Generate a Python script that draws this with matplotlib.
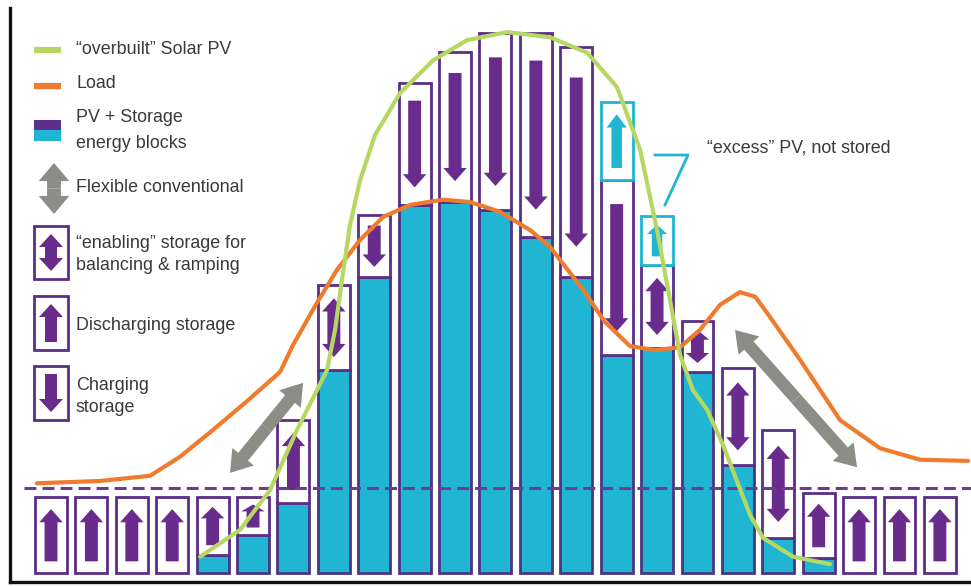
import numpy as np
import matplotlib.pyplot as plt
from matplotlib.patches import Polygon, Rectangle, FancyArrowPatch

plt.rcParams['font.family'] = ['Liberation Sans', 'DejaVu Sans']

# ---- data (hour-by-hour energy blocks, arbitrary units) ----
hours = np.arange(23)
base = 1.5
pv_served = [0, 0, 0, 0, 4.7, 8.2, 13.8, 36.9, 53.1, 65.7, 66.2, 64.8,
             60.1, 53.1, 39.5, 40.8, 36.6, 20.4, 7.7, 4.2, 0, 0, 0]
storage_top = [14.8, 14.8, 14.8, 14.8, 14.8, 14.8, 28.2, 51.7, 63.9, 86.9,
               92.3, 95.6, 95.6, 93.2, 70.0, 55.2, 45.5, 37.3, 26.5, 15.5,
               14.8, 14.8, 14.8]
arrow_kind = ['up'] * 7 + ['both'] + ['down'] * 7 + ['both'] * 4 + ['up'] * 4
excess_hours = [14, 15]
excess_top = [83.6, 63.8]
excess_bottom = [70.0, 55.2]
flex_level = 16.4

load_x = [-0.35, 1.21, 2.45, 3.19, 4.01, 4.85, 5.67, 5.99, 6.58, 7.08, 7.65,
          8.22, 8.89, 9.70, 10.37, 11.11, 11.86, 12.35, 13.17, 13.71, 14.33,
          14.95, 15.57, 16.06, 16.56, 17.05, 17.43, 17.72, 18.54, 19.53,
          20.52, 21.51, 22.70]
load_y = [17.2, 17.6, 18.5, 21.8, 26.5, 31.5, 36.6, 41.3, 48.6, 54.4, 59.6,
          63.6, 65.7, 66.6, 66.2, 64.5, 61.3, 58.4, 50.9, 45.3, 41.1,
          40.4, 40.9, 43.9, 48.3, 50.5, 49.7, 46.9, 38.7, 28.2,
          23.3, 21.3, 21.1]

pv_x = [3.69, 4.68, 5.42, 6.09, 6.83, 7.03, 7.20, 7.40, 7.65, 8.02, 8.27,
        8.64, 9.46, 10.30, 11.29, 12.35, 13.27, 14.01, 14.58, 15.00, 15.32,
        15.57, 15.89, 16.24, 16.63, 17.30, 17.62, 18.37, 19.28]
pv_y = [4.4, 9.1, 16.0, 26.5, 36.9, 43.9, 52.6, 62.2, 70.0, 77.9, 80.8,
        85.2, 90.9, 94.4, 95.8, 94.9, 92.2, 86.2, 75.3, 61.3, 49.1,
        39.5, 33.4, 30.0, 23.9, 11.7, 7.7, 4.4, 3.1]

flex_arrows = [((4.43, 19.0), (6.24, 34.7)), ((16.93, 43.9), (19.95, 20.0))]

# ---- colours ----
cyan = '#20b6d3'
purple = '#6a2c8c'
box_edge = '#5a2f86'
bar_edge = '#4a3583'
green = '#b6d862'
orange = '#ef7b2f'
grey = '#8d8d88'
txt = '#3a3a3a'


def arrow_verts(xc, ya, yb, sw, hw, hl, both=False):
    # arrow from ya to yb, head at yb (and at ya if both)
    s = np.sign(yb - ya)
    hl = s * hl
    if both:
        return [(xc, ya), (xc + hw, ya + hl), (xc + sw, ya + hl),
                (xc + sw, yb - hl), (xc + hw, yb - hl), (xc, yb),
                (xc - hw, yb - hl), (xc - sw, yb - hl), (xc - sw, ya + hl),
                (xc - hw, ya + hl)]
    return [(xc - sw, ya), (xc + sw, ya), (xc + sw, yb - hl),
            (xc + hw, yb - hl), (xc, yb), (xc - hw, yb - hl),
            (xc - sw, yb - hl)]


def double_arrow(axis, p0, p1, style, color, z):
    mid = ((p0[0] + p1[0]) / 2, (p0[1] + p1[1]) / 2)
    for end in (p0, p1):
        axis.add_patch(FancyArrowPatch(mid, end, arrowstyle=style, color=color,
                                       shrinkA=0, shrinkB=0, lw=0, zorder=z))


fig = plt.figure(figsize=(9.71, 5.87), dpi=100)
ax = fig.add_axes([10 / 971, 5 / 587, 961 / 971, 574 / 587])
ax.set_xlim(-1.015, 22.77)
ax.set_ylim(0, 100)
for side in ['top', 'right']:
    ax.spines[side].set_visible(False)
for side in ['left', 'bottom']:
    ax.spines[side].set_linewidth(2.4)
    ax.spines[side].set_color('#111111')
ax.set_xticks([])
ax.set_yticks([])

w = 0.79
pv_served = np.array(pv_served, dtype=float)
storage_top = np.array(storage_top, dtype=float)
box_bottom = np.maximum(pv_served, base)

# PV serving load directly
has_pv = pv_served > base
ax.bar(hours[has_pv], pv_served[has_pv] - base, bottom=base, width=w,
       color=cyan, edgecolor=bar_edge, linewidth=2, zorder=2)
# storage blocks
ax.bar(hours, storage_top - box_bottom, bottom=box_bottom, width=w,
       color='white', edgecolor=box_edge, linewidth=2, zorder=2)
# excess PV blocks
ax.bar(excess_hours, np.array(excess_top) - np.array(excess_bottom),
       bottom=excess_bottom, width=w, color='white', edgecolor=cyan,
       linewidth=2, zorder=2)

for h, b0, b1, kind in zip(hours, box_bottom, storage_top, arrow_kind):
    hgt = b1 - b0
    m = 0.5 + 0.12 * hgt
    lo, hi = b0 + m, b1 - m
    hl = min(2.3, 0.3 * (hi - lo))
    if kind == 'up':
        v = arrow_verts(h, lo, hi, 0.16, 0.29, hl)
    elif kind == 'down':
        v = arrow_verts(h, hi, lo, 0.16, 0.29, hl)
    else:
        v = arrow_verts(h, lo, hi, 0.16, 0.29, hl, both=True)
    ax.add_patch(Polygon(v, closed=True, color=purple, lw=0, zorder=3))

for h, b0, b1 in zip(excess_hours, excess_bottom, excess_top):
    m = 0.5 + 0.12 * (b1 - b0)
    lo, hi = b0 + m, b1 - m
    v = arrow_verts(h, lo, hi, 0.13, 0.25, min(2.3, 0.3 * (hi - lo)))
    ax.add_patch(Polygon(v, closed=True, color=cyan, lw=0, zorder=3))

# flexible conventional floor
ax.axhline(flex_level, xmin=0.015, xmax=1, color='#6a3d8f', lw=2.2,
           dashes=(3.9, 2.0), zorder=4)

ax.plot(load_x, load_y, color=orange, lw=3, solid_joinstyle='round',
        solid_capstyle='round', zorder=5)
ax.plot(pv_x, pv_y, color=green, lw=3, solid_joinstyle='round',
        solid_capstyle='round', zorder=5)

for p0, p1 in flex_arrows:
    double_arrow(ax, p0, p1, 'simple,head_length=15,head_width=20,tail_width=9',
                 grey, 6)

# ---- legend / annotations in pixel coordinates ----
ov = fig.add_axes([0, 0, 1, 1], facecolor='none')
ov.set_xlim(0, 971)
ov.set_ylim(587, 0)
ov.axis('off')

ov.plot([34, 61], [50, 50], color=green, lw=4.5, solid_capstyle='butt')
ov.plot([34, 61], [86, 86], color=orange, lw=4.5, solid_capstyle='butt')
ov.add_patch(Rectangle((34, 120), 27, 10, color='#5b2f8e', lw=0))
ov.add_patch(Rectangle((34, 130), 27, 11, color=cyan, lw=0))
double_arrow(ov, (54, 163), (54, 214),
             'simple,head_length=13,head_width=22,tail_width=10', grey, 3)

legend_boxes = [(226, 279, 'both'), (296, 350, 'up'), (366, 420, 'down')]
for top, bot, kind in legend_boxes:
    ov.add_patch(Rectangle((34, top), 34, bot - top, fill=False,
                           edgecolor=box_edge, lw=2))
    lo, hi = bot - 8, top + 8
    if kind == 'down':
        lo, hi = hi, lo
    v = arrow_verts(51, lo, hi, 6, 12, 13, both=(kind == 'both'))
    ov.add_patch(Polygon(v, closed=True, color=purple, lw=0))

fs = 12.9
ov.text(76, 49, '\u201coverbuilt\u201d Solar PV', fontsize=fs, color=txt, va='center')
ov.text(76, 83, 'Load', fontsize=fs, color=txt, va='center')
ov.text(76, 117, 'PV + Storage', fontsize=fs, color=txt, va='center')
ov.text(76, 143, 'energy blocks', fontsize=fs, color=txt, va='center')
ov.text(76, 188, 'Flexible conventional', fontsize=fs, color=txt, va='center')
ov.text(76, 243, '\u201cenabling\u201d storage for', fontsize=fs, color=txt, va='center')
ov.text(76, 265, 'balancing & ramping', fontsize=fs, color=txt, va='center')
ov.text(76, 325, 'Discharging storage', fontsize=fs, color=txt, va='center')
ov.text(76, 385, 'Charging', fontsize=fs, color=txt, va='center')
ov.text(76, 408, 'storage', fontsize=fs, color=txt, va='center')

ov.text(707, 148, '\u201cexcess\u201d PV, not stored', fontsize=fs, color=txt, va='center')
ov.plot([655, 688, 665], [155, 155, 205], color=cyan, lw=2)

fig.savefig('out.png', dpi=100)
